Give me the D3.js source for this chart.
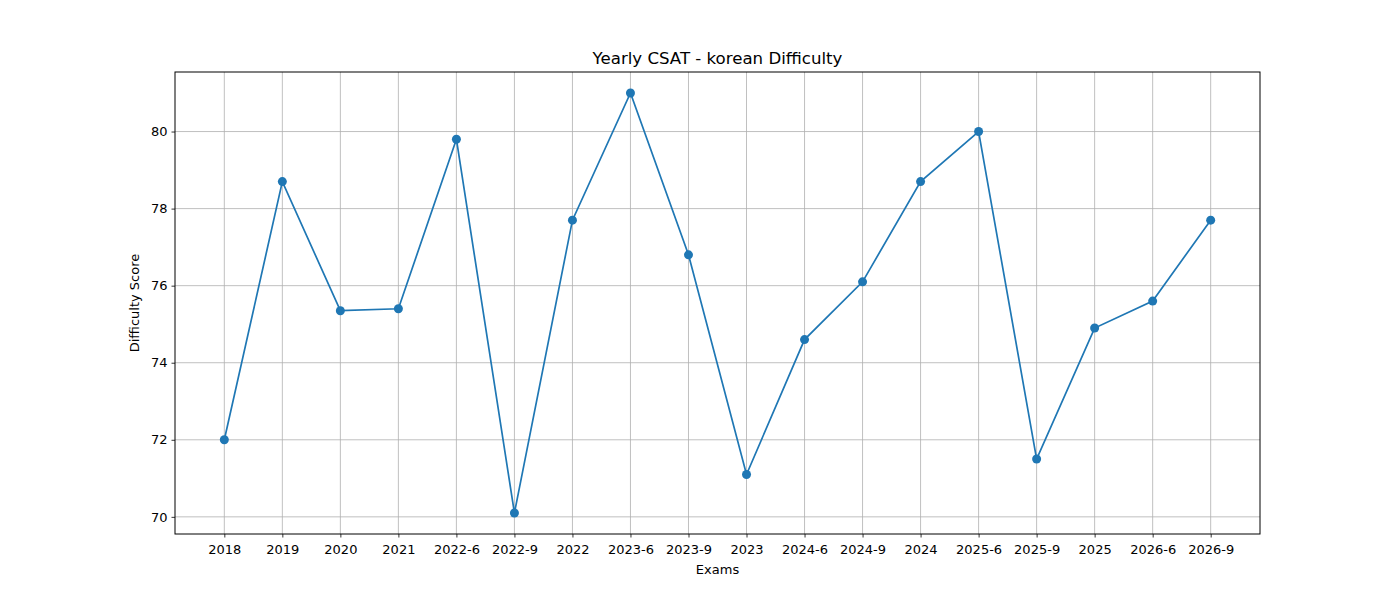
<!DOCTYPE html>
<html><head><meta charset="utf-8">
<script src="https://cdn.jsdelivr.net/npm/d3@7"></script>
<style>body{margin:0;background:#fff}svg{display:block}text{font-family:"DejaVu Sans",sans-serif}</style>
</head><body>
<script>
const exams = ["2018","2019","2020","2021","2022-6","2022-9","2022","2023-6","2023-9","2023","2024-6","2024-9","2024","2025-6","2025-9","2025","2026-6","2026-9"];
const scores = [72.0,78.7,75.35,75.4,79.8,70.1,77.7,81.0,76.8,71.1,74.6,76.1,78.7,80.0,71.5,74.9,75.6,77.7];
const yTicks = [70,72,74,76,78,80];

const W=1400,H=600, L=175,R=1260,T=72,B=534;
const svg=d3.select("body").append("svg").attr("width",W).attr("height",H);
const x=d3.scaleLinear().domain([-0.85, exams.length-1+0.85]).range([L,R]);
const ymin=d3.min(scores), ymax=d3.max(scores), pad=(ymax-ymin)*0.05;
const y=d3.scaleLinear().domain([ymin-pad,ymax+pad]).range([B,T]);

// grid
svg.append("g").selectAll("line").data(exams).join("line")
 .attr("x1",(d,i)=>x(i)).attr("x2",(d,i)=>x(i)).attr("y1",T).attr("y2",B)
 .attr("stroke","#b0b0b0").attr("stroke-width",0.8);
svg.append("g").selectAll("line").data(yTicks).join("line")
 .attr("y1",d=>y(d)).attr("y2",d=>y(d)).attr("x1",L).attr("x2",R)
 .attr("stroke","#b0b0b0").attr("stroke-width",0.8);

// axes
const xa=svg.append("g").attr("transform",`translate(0,${B})`)
 .call(d3.axisBottom(x).tickValues(d3.range(exams.length)).tickFormat(i=>exams[i]).tickSize(3.5).tickPadding(4));
const ya=svg.append("g").attr("transform",`translate(${L},0)`)
 .call(d3.axisLeft(y).tickValues(yTicks).tickSize(3.5).tickPadding(4));
[xa,ya].forEach(g=>{g.select(".domain").remove();g.selectAll("text").attr("font-size",13).attr("font-family","DejaVu Sans").attr("fill","#000");g.selectAll("line").attr("stroke","#000").attr("stroke-width",0.8);});
xa.selectAll("text").attr("dy","0.95em");

svg.append("rect").attr("x",L).attr("y",T).attr("width",R-L).attr("height",B-T)
 .attr("fill","none").attr("stroke","#000").attr("stroke-width",1);

// line
const line=d3.line().x((d,i)=>x(i)).y(d=>y(d));
svg.append("path").datum(scores).attr("d",line).attr("fill","none").attr("stroke","#1f77b4").attr("stroke-width",1.7);
svg.append("g").selectAll("circle").data(scores).join("circle")
 .attr("cx",(d,i)=>x(i)).attr("cy",d=>y(d)).attr("r",4.5).attr("fill","#1f77b4");

// labels
svg.append("text").attr("x",(L+R)/2).attr("y",64).attr("text-anchor","middle").attr("font-size",16.6).text("Yearly CSAT - korean Difficulty");
svg.append("text").attr("x",(L+R)/2).attr("y",574).attr("text-anchor","middle").attr("font-size",13).text("Exams");
svg.append("text").attr("transform",`translate(139,${(T+B)/2}) rotate(-90)`).attr("text-anchor","middle").attr("font-size",13).text("Difficulty Score");
</script>
</body></html>
